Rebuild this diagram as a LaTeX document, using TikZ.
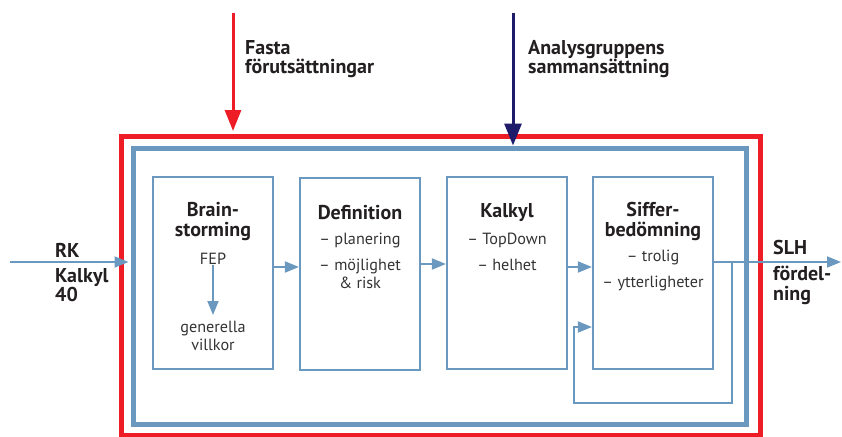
\documentclass[tikz,border=0pt]{standalone}
\usepackage{fontspec}
\setmainfont{PT Sans}
\usetikzlibrary{arrows.meta}
\definecolor{frameblue}{HTML}{6A98BE}
\definecolor{framered}{HTML}{EE1C25}
\definecolor{darknavy}{HTML}{1E1B6B}
\definecolor{inkdark}{HTML}{231F20}
\definecolor{inkgray}{HTML}{333333}

\tikzset{
    stepbox/.style={draw=frameblue, line width=2.2pt, minimum width=120pt, minimum height=192pt, inner sep=0pt},
    headtext/.style={inner sep=0pt, align=center, text=inkdark, font=\fontsize{20}{20}\selectfont\bfseries},
    bodytext/.style={inner sep=0pt, align=center, text=inkgray, font=\fontsize{16.2}{18}\selectfont},
    sidetext/.style={inner sep=0pt, align=left, text=inkdark, font=\fontsize{20}{19.5}\selectfont\bfseries},
    flow/.style={draw=frameblue, line width=1.8pt, -{Triangle[length=14pt,width=11pt]}},
}

\begin{document}
\begin{tikzpicture}[x=1pt, y=-1pt]
    \useasboundingbox (0,0) rectangle (842,436);

    % frames
    \node[draw=framered, line width=5pt, minimum width=639pt, minimum height=299pt, inner sep=0pt] (redframe) at (440.5,285.5) {};
    \node[draw=frameblue, line width=5pt, minimum width=613pt, minimum height=276pt, inner sep=0pt] (blueframe) at (439.5,286) {};

    % steps
    \node[stepbox] (brain) at (213,273) {};
    \node[stepbox] (defin) at (360,274) {};
    \node[stepbox] (kalkyl) at (507,273) {};
    \node[stepbox] (siffer) at (653,273) {};

    \node[headtext, anchor=north] (brainhd) at (213,202) {Brain-\\storming};
    \node[bodytext, anchor=north] (fep) at (213,253) {FEP};
    \node[bodytext, anchor=north] (generella) at (213,321) {generella\\villkor};
    \draw[flow] (fep.south) -- ([yshift=6pt]generella.north);

    \node[headtext, anchor=north] (definhd) at (360,205) {Definition};
    \node[bodytext, anchor=north] (definbody) at (360,233) {– planering\\[8pt]– möjlighet\\\& risk};

    \node[headtext, anchor=north] (kalkylhd) at (507,203) {Kalkyl};
    \node[bodytext, anchor=north] (kalkylbody) at (507,233) {– TopDown\\[8pt]– helhet};

    \node[headtext, anchor=north] (sifferhd) at (653,202) {Siffer-\\bedömning};
    \node[bodytext, anchor=north] (sifferbody) at (653,250) {– trolig\\[8pt]– ytterligheter};

    \draw[flow] ([yshift=6pt]brain.east) -- ([yshift=7pt]defin.west);
    \draw[flow] ([yshift=10pt]defin.east) -- ([yshift=9pt]kalkyl.west);
    \draw[flow] ([yshift=6pt]kalkyl.east) -- ([yshift=6pt]siffer.west);

    % feedback loop
    \coordinate (loopa) at (732,262);
    \coordinate (loopb) at (574,403);
    \draw[flow] (loopa) |- (loopb) |- ([yshift=-54pt]siffer.west);

    % in and out
    \coordinate (rkin) at (10,262);
    \coordinate (slhout) at (841,262);
    \draw[flow] (rkin) -- ([xshift=-2pt]rkin -| blueframe.west);
    \draw[flow] ([yshift=11pt]siffer.east) -- (slhout);

    \node[sidetext, anchor=north west] (rk) at (55,243) {RK};
    \node[sidetext, anchor=north west] (rkkalkyl) at (55,268) {Kalkyl\\40};
    \node[sidetext, anchor=north west] (slh) at (773,240) {SLH};
    \node[sidetext, anchor=north west] (slhford) at (773,266) {fördel-\\ning};

    % top inputs
    \coordinate (fastatop) at (233,13);
    \coordinate (analystop) at (513,13);
    \draw[draw=framered, line width=3pt, -{Triangle[length=21pt,width=16pt]}] (fastatop) -- ([yshift=2.5pt]fastatop |- redframe.north);
    \draw[draw=darknavy, line width=3pt, -{Triangle[length=22pt,width=17pt]}] (analystop) -- (analystop |- blueframe.north);

    \node[sidetext, anchor=north west] (fasta) at (245,40) {Fasta\\förutsättningar};
    \node[sidetext, anchor=north west] (analys) at (528,40) {Analysgruppens\\sammansättning};
\end{tikzpicture}
\end{document}
